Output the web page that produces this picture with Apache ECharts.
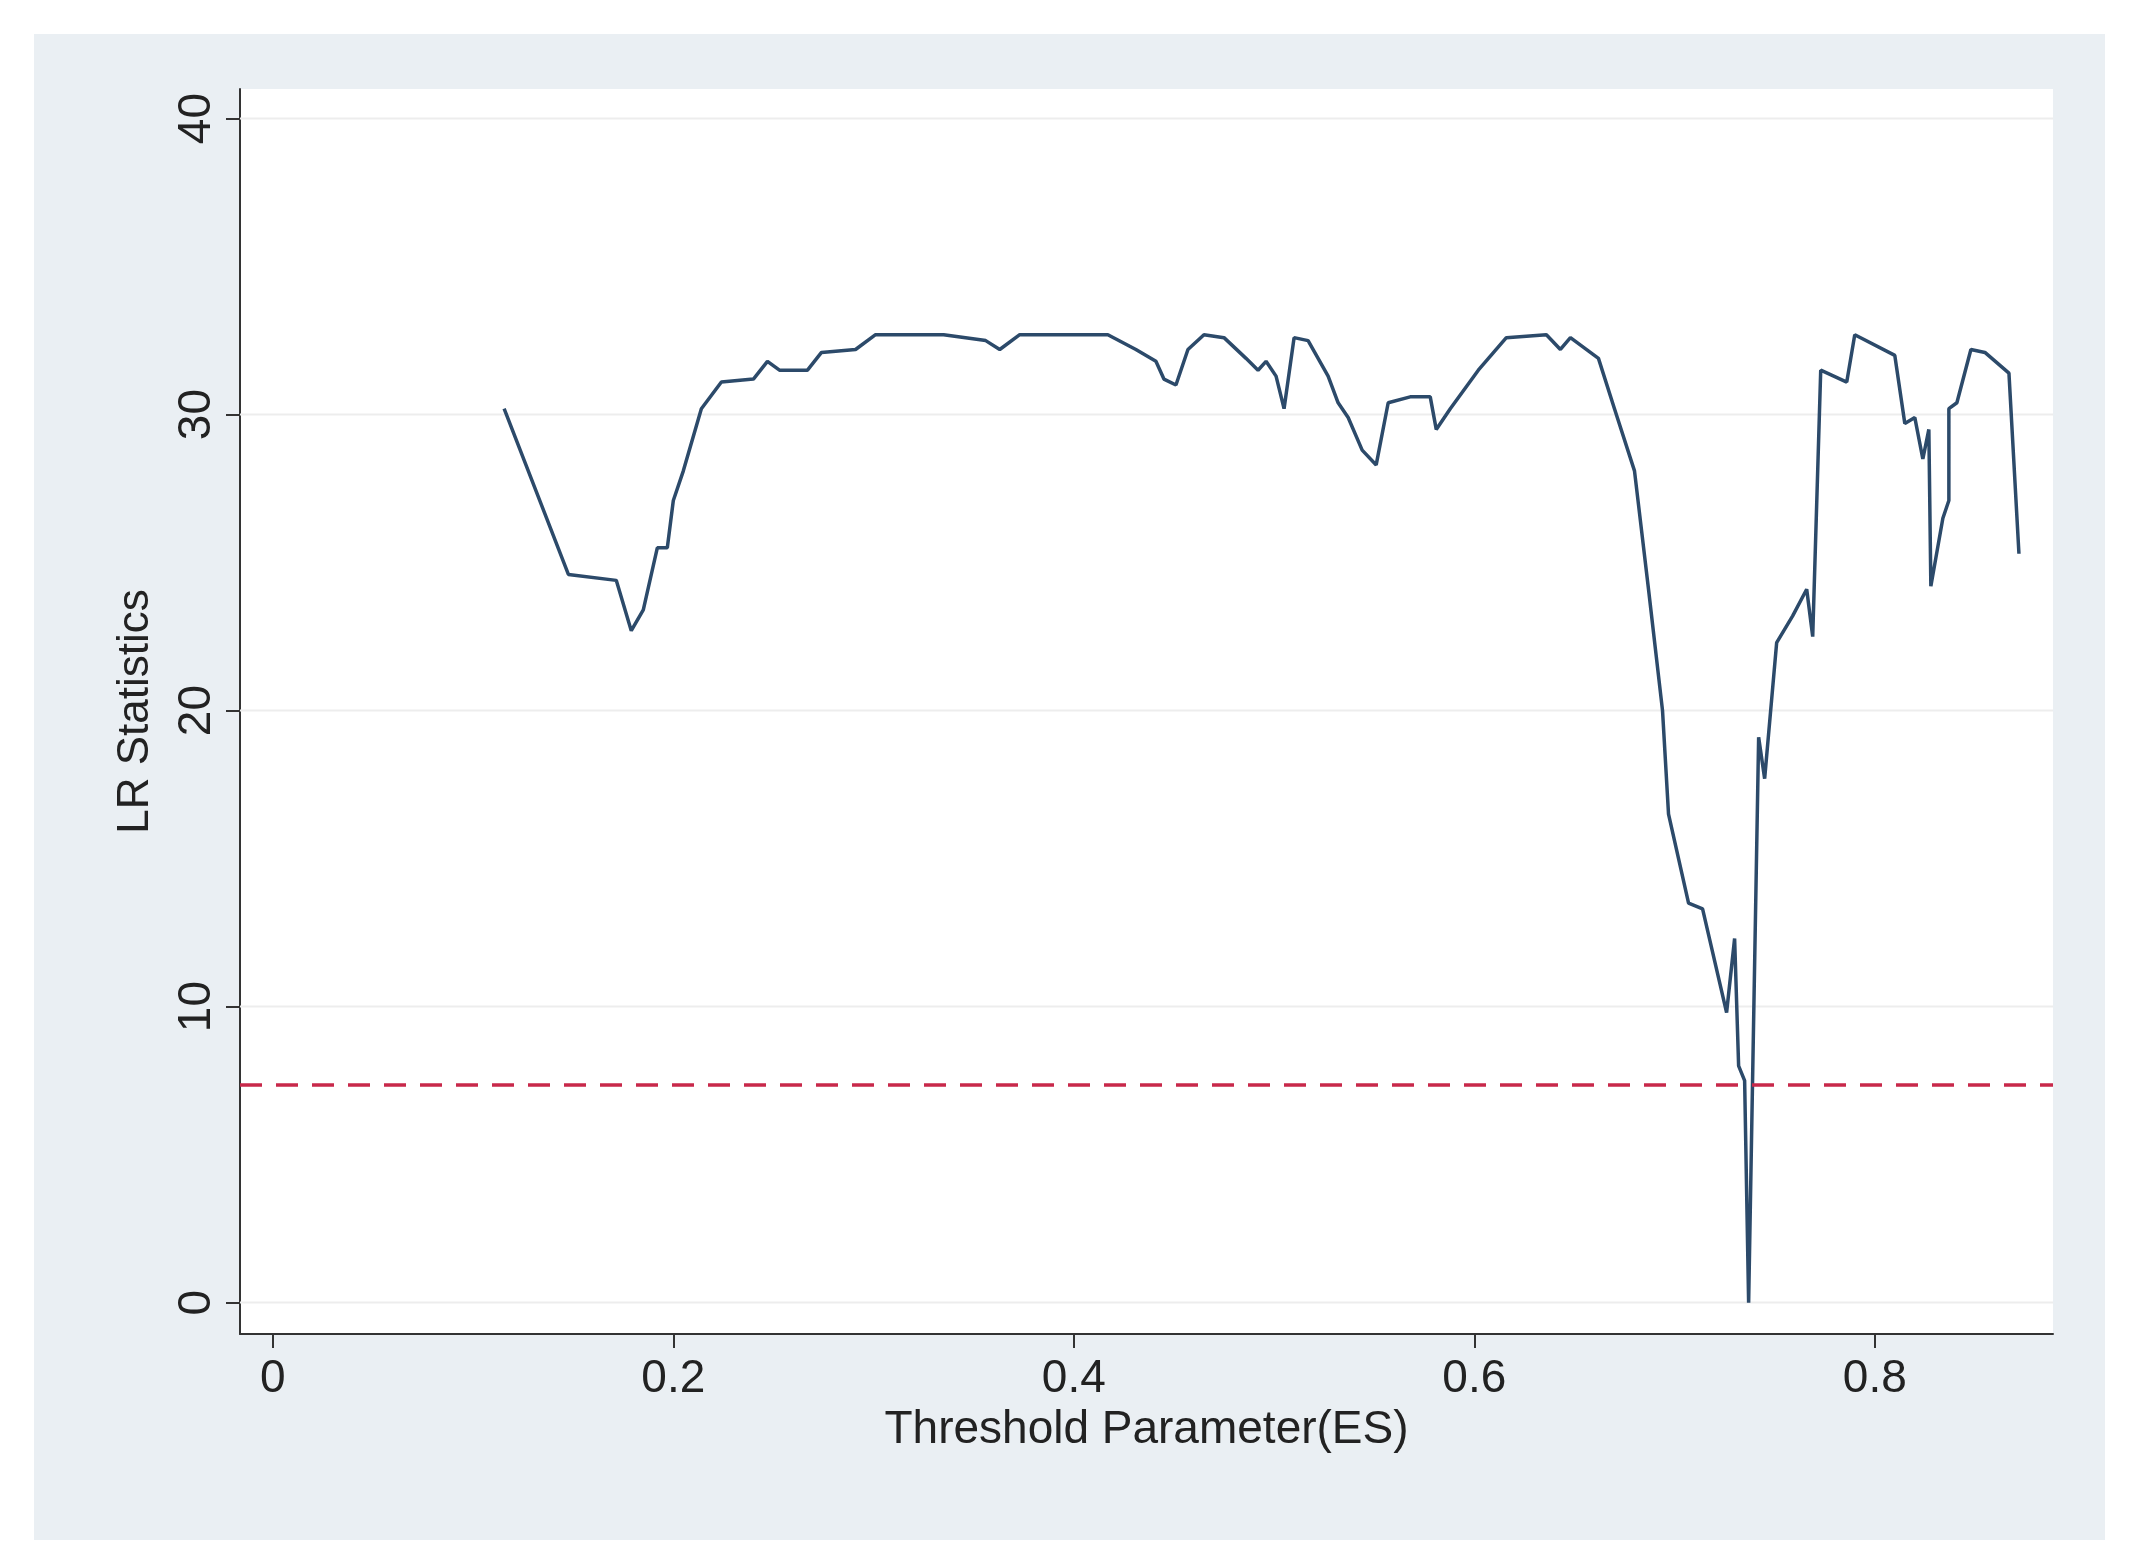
<!DOCTYPE html>
<html><head><meta charset="utf-8">
<script src="https://cdn.jsdelivr.net/npm/echarts@6/dist/echarts.min.js"></script>
<style>html,body{margin:0;padding:0;background:#fff}#bg{position:absolute;left:34px;top:34px;width:2071px;height:1506px;background:#eaeff3}#c{position:absolute;left:0;top:0;width:2139px;height:1568px}</style>
</head><body><div id="bg"></div><div id="c"></div>
<script>
const xVals=[0.1155,0.1476,0.1715,0.179,0.185,0.192,0.197,0.2,0.205,0.214,0.224,0.240,0.247,0.253,0.267,0.274,0.291,0.301,0.335,0.356,0.363,0.373,0.417,0.431,0.441,0.445,0.451,0.457,0.465,0.475,0.486,0.492,0.496,0.501,0.505,0.510,0.517,0.527,0.532,0.537,0.544,0.551,0.557,0.568,0.578,0.581,0.588,0.602,0.616,0.636,0.643,0.648,0.662,0.670,0.680,0.687,0.694,0.697,0.707,0.714,0.726,0.730,0.732,0.735,0.737,0.742,0.745,0.751,0.759,0.766,0.769,0.773,0.786,0.790,0.810,0.815,0.820,0.824,0.827,0.828,0.834,0.837,0.837,0.841,0.848,0.855,0.867,0.872];
const lrVals=[30.2,24.6,24.4,22.7,23.4,25.5,25.5,27.1,28.1,30.2,31.1,31.2,31.8,31.5,31.5,32.1,32.2,32.7,32.7,32.5,32.2,32.7,32.7,32.2,31.8,31.2,31.0,32.2,32.7,32.6,31.9,31.5,31.8,31.3,30.2,32.6,32.5,31.3,30.4,29.9,28.8,28.3,30.4,30.6,30.6,29.5,30.2,31.5,32.6,32.7,32.2,32.6,31.9,30.2,28.1,24.1,20.0,16.5,13.5,13.3,9.8,12.3,8.0,7.5,0.0,19.1,17.7,22.3,23.2,24.1,22.5,31.5,31.1,32.7,32.0,29.7,29.9,28.5,29.5,24.2,26.5,27.1,30.2,30.4,32.2,32.1,31.4,25.3];
const critical=7.35;
const xTicks=[0,0.2,0.4,0.6,0.8];
const yTicks=[0,10,20,30,40];
const XMIN=-0.0164,XMAX=0.889;
const chart=echarts.init(document.getElementById('c'));
const font='Liberation Sans';
const gridSeries=yTicks.map(v=>({type:'line',data:[[XMIN,v],[XMAX,v]],showSymbol:false,silent:true,z:1,lineStyle:{color:'#ededed',width:2}}));
chart.setOption({
 animation:false,
 grid:{left:240,right:86,top:89,bottom:234,show:true,backgroundColor:'#ffffff',borderWidth:0},
 xAxis:{type:'value',min:XMIN,max:XMAX,
  axisLine:{onZero:false,lineStyle:{color:'#333',width:2}},
  axisTick:{show:true,length:14,lineStyle:{color:'#333',width:2},customValues:xTicks},
  axisLabel:{customValues:xTicks,formatter:v=>String(v),fontSize:46,color:'#222',margin:22,fontFamily:font},
  splitLine:{show:false},
  name:'Threshold Parameter(ES)',nameLocation:'middle',nameGap:70,nameTextStyle:{fontSize:46,color:'#222',fontFamily:font}},
 yAxis:{type:'value',min:-1.06,max:41,
  axisLine:{onZero:false,lineStyle:{color:'#333',width:2}},
  axisTick:{show:true,length:14,lineStyle:{color:'#333',width:2},customValues:yTicks},
  axisLabel:{customValues:yTicks,rotate:90,fontSize:46,color:'#222',margin:20,fontFamily:font},
  splitLine:{show:false},
  name:'LR Statistics',nameLocation:'middle',nameGap:82,nameRotate:90,nameTextStyle:{fontSize:44,color:'#222',fontFamily:font}},
 series:gridSeries.concat([
  {type:'line',z:3,data:xVals.map((x,i)=>[x,lrVals[i]]),showSymbol:false,lineStyle:{color:'#2c4a6a',width:3.5},
   markLine:{silent:true,symbol:'none',label:{show:false},data:[{yAxis:critical}],lineStyle:{color:'#c8284a',type:[22,14],width:3.5}}}
 ])
});
</script></body></html>
